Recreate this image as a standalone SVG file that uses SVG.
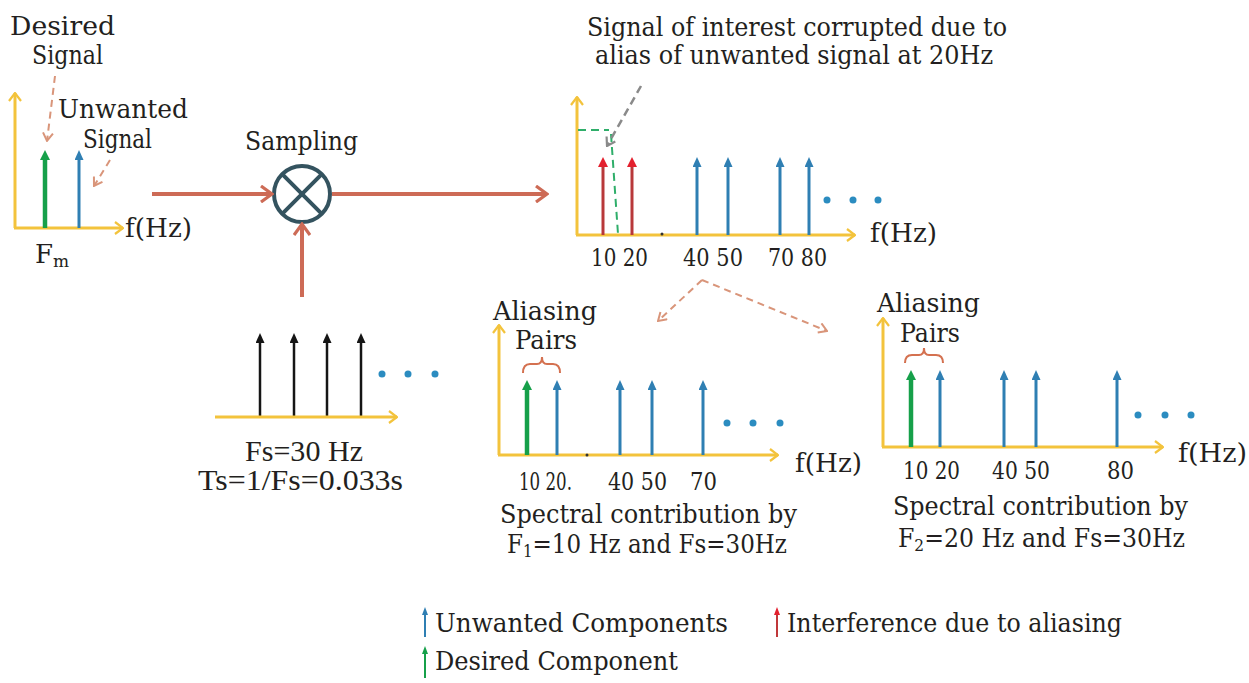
<svg xmlns="http://www.w3.org/2000/svg" width="1249" height="683" viewBox="0 0 1249 683">
<defs>
<style>
text{font-family:"DejaVu Serif","Liberation Serif",serif;font-size:26px;fill:#231f20}
.tm{font-family:"Liberation Serif","Times New Roman",serif;font-size:29px}
.num{font-size:25px}
.ax{stroke:#f3c33c;stroke-width:3;fill:none;marker-end:url(#axh)}
.sb{stroke:#2f7fb3;stroke-width:3;marker-end:url(#hb)}
.sg{stroke:#16a04a;stroke-width:4.5;marker-end:url(#hg)}
.sr{stroke:#b8383a;stroke-width:3;marker-end:url(#hr)}
.sk{stroke:#151515;stroke-width:2.5;marker-end:url(#hk)}
.dot{fill:#2b8cc0}
.conn{stroke:#cd6b56;stroke-width:4;fill:none;marker-end:url(#ch)}
.dash{stroke:#d9957a;stroke-width:2;stroke-dasharray:7 5;fill:none;marker-end:url(#dh)}
.brace{stroke:#d47150;stroke-width:2;fill:none}
</style>
<marker id="axh" markerUnits="userSpaceOnUse" viewBox="0 0 10 14" refX="9" refY="7" markerWidth="10" markerHeight="14" orient="auto"><path d="M1,1 L9,7 L1,13" fill="none" stroke="#f3c33c" stroke-width="2.2"/></marker>
<marker id="hb" markerUnits="userSpaceOnUse" viewBox="0 0 10 9" refX="3" refY="4.5" markerWidth="10" markerHeight="9" orient="auto"><path d="M0,0 L10,4.5 L0,9 Z" fill="#2f7fb3"/></marker>
<marker id="hg" markerUnits="userSpaceOnUse" viewBox="0 0 10 10" refX="3" refY="5" markerWidth="10" markerHeight="10" orient="auto"><path d="M0,0 L10,5 L0,10 Z" fill="#16a04a"/></marker>
<marker id="hr" markerUnits="userSpaceOnUse" viewBox="0 0 10 10" refX="3" refY="5" markerWidth="10" markerHeight="10" orient="auto"><path d="M0,0 L10,5 L0,10 Z" fill="#e3202e"/></marker>
<marker id="hk" markerUnits="userSpaceOnUse" viewBox="0 0 10 9" refX="3" refY="4.5" markerWidth="10" markerHeight="9" orient="auto"><path d="M0,0 L10,4.5 L0,9 Z" fill="#151515"/></marker>
<marker id="hbs" markerUnits="userSpaceOnUse" viewBox="0 0 8 6" refX="2" refY="3" markerWidth="8" markerHeight="6" orient="auto"><path d="M0,0 L8,3 L0,6 Z" fill="#2f7fb3"/></marker>
<marker id="hgs" markerUnits="userSpaceOnUse" viewBox="0 0 8 6" refX="2" refY="3" markerWidth="8" markerHeight="6" orient="auto"><path d="M0,0 L8,3 L0,6 Z" fill="#16a04a"/></marker>
<marker id="hrs" markerUnits="userSpaceOnUse" viewBox="0 0 8 6" refX="2" refY="3" markerWidth="8" markerHeight="6" orient="auto"><path d="M0,0 L8,3 L0,6 Z" fill="#e3202e"/></marker>
<marker id="ch" markerUnits="userSpaceOnUse" viewBox="0 0 14 18" refX="12" refY="9" markerWidth="14" markerHeight="18" orient="auto"><path d="M1,1 L12,9 L1,17" fill="none" stroke="#cd6b56" stroke-width="3.2"/></marker>
<marker id="dh" markerUnits="userSpaceOnUse" viewBox="0 0 10 12" refX="9" refY="6" markerWidth="10" markerHeight="12" orient="auto"><path d="M1,1 L9,6 L1,11" fill="none" stroke="#d9957a" stroke-width="2"/></marker>
<marker id="gh" markerUnits="userSpaceOnUse" viewBox="0 0 10 12" refX="9" refY="6" markerWidth="10" markerHeight="12" orient="auto"><path d="M1,1 L9,6 L1,11" fill="none" stroke="#8a8a8a" stroke-width="2.2"/></marker>
</defs>
<rect width="1249" height="683" fill="#ffffff"/>

<g id="input-spectrum">
<line class="ax" x1="15" y1="228" x2="15" y2="93"/>
<line class="ax" x1="14" y1="228" x2="123" y2="228"/>
<line class="sg" x1="45" y1="228" x2="45" y2="157"/>
<line class="sb" x1="79" y1="228" x2="79" y2="157"/>
<text x="10" y="35" textLength="105" lengthAdjust="spacingAndGlyphs">Desired</text>
<text x="32" y="64" textLength="71" lengthAdjust="spacingAndGlyphs">Signal</text>
<text x="58" y="118" textLength="130" lengthAdjust="spacingAndGlyphs">Unwanted</text>
<text x="83" y="148" textLength="69" lengthAdjust="spacingAndGlyphs">Signal</text>
<path class="dash" d="M55,76 L47,141"/>
<path class="dash" d="M110,160 L94,186"/>
<text x="125" y="237" textLength="67" lengthAdjust="spacingAndGlyphs">f(Hz)</text>
<text x="35" y="263">F<tspan font-size="17" dy="4">m</tspan></text>
</g>

<g id="sampling">
<text x="245" y="150" textLength="113" lengthAdjust="spacingAndGlyphs">Sampling</text>
<circle cx="302" cy="194" r="28" fill="#ffffff" stroke="#34535f" stroke-width="4"/>
<path d="M282.2,174.2 L321.8,213.8 M321.8,174.2 L282.2,213.8" stroke="#34535f" stroke-width="4"/>
</g>

<g id="sampling-train">
<line class="sk" x1="260" y1="417" x2="260" y2="340"/>
<line class="sk" x1="294" y1="417" x2="294" y2="340"/>
<line class="sk" x1="327" y1="417" x2="327" y2="340"/>
<line class="sk" x1="361" y1="417" x2="361" y2="340"/>
<line class="ax" x1="215" y1="417" x2="397" y2="417"/>
<circle class="dot" cx="382" cy="374" r="3.5"/>
<circle class="dot" cx="408" cy="374" r="3.5"/>
<circle class="dot" cx="435" cy="374" r="3.5"/>
<text class="tm" x="245" y="461" textLength="118" lengthAdjust="spacingAndGlyphs">Fs=30 Hz</text>
<text class="tm" x="198" y="490" textLength="205" lengthAdjust="spacingAndGlyphs">Ts=1/Fs=0.033s</text>
</g>

<g id="sampled-spectrum">
<text x="587" y="36" textLength="420" lengthAdjust="spacingAndGlyphs">Signal of interest corrupted due to</text>
<text x="595" y="64" textLength="398" lengthAdjust="spacingAndGlyphs">alias of unwanted signal at 20Hz</text>
<line class="ax" x1="577" y1="235" x2="577" y2="97"/>
<line class="ax" x1="576" y1="235" x2="855" y2="235"/>
<path d="M578,130 H609 M611,134 L618,234" stroke="#2fae6a" stroke-width="2" stroke-dasharray="8 5" fill="none"/>
<line class="sr" x1="603" y1="235" x2="603" y2="164"/>
<line class="sr" x1="632" y1="235" x2="632" y2="164"/>
<line class="sb" x1="697" y1="235" x2="697" y2="164"/>
<line class="sb" x1="728" y1="235" x2="728" y2="164"/>
<line class="sb" x1="780" y1="235" x2="780" y2="164"/>
<line class="sb" x1="809" y1="235" x2="809" y2="164"/>
<circle cx="662" cy="234" r="1.5" fill="#333"/>
<path d="M641,86 L607,146" stroke="#8a8a8a" stroke-width="2.5" stroke-dasharray="8 5" fill="none" marker-end="url(#gh)"/>
<circle class="dot" cx="827" cy="200" r="3.5"/>
<circle class="dot" cx="853" cy="200" r="3.5"/>
<circle class="dot" cx="878" cy="200" r="3.5"/>
<text x="870" y="242" textLength="67" lengthAdjust="spacingAndGlyphs">f(Hz)</text>
<text class="num" x="591" y="266" textLength="57" lengthAdjust="spacingAndGlyphs">10 20</text>
<text class="num" x="683" y="266" textLength="60" lengthAdjust="spacingAndGlyphs">40 50</text>
<text class="num" x="768" y="266" textLength="59" lengthAdjust="spacingAndGlyphs">70 80</text>
</g>

<g id="contribution-f1">
<text x="493" y="320" textLength="104" lengthAdjust="spacingAndGlyphs">Aliasing</text>
<text x="515" y="349" textLength="62" lengthAdjust="spacingAndGlyphs">Pairs</text>
<path class="brace" d="M523,373 Q523,364 530,364 L537,364 Q542,364 542,357 Q542,364 547,364 L553,364 Q560,364 560,373"/>
<line class="ax" x1="499" y1="455" x2="499" y2="325"/>
<line class="ax" x1="498" y1="455" x2="778" y2="455"/>
<line class="sg" x1="527" y1="455" x2="527" y2="387"/>
<line class="sb" x1="557" y1="455" x2="557" y2="387"/>
<line class="sb" x1="620" y1="455" x2="620" y2="387"/>
<line class="sb" x1="652" y1="455" x2="652" y2="387"/>
<line class="sb" x1="703" y1="455" x2="703" y2="387"/>
<circle cx="587" cy="455" r="1.5" fill="#333"/>
<circle class="dot" cx="727" cy="423" r="3.5"/>
<circle class="dot" cx="753" cy="423" r="3.5"/>
<circle class="dot" cx="780" cy="423" r="3.5"/>
<text x="795" y="472" textLength="67" lengthAdjust="spacingAndGlyphs">f(Hz)</text>
<text class="num" x="519" y="490" textLength="53" lengthAdjust="spacingAndGlyphs">10 20.</text>
<text class="num" x="608" y="490" textLength="59" lengthAdjust="spacingAndGlyphs">40 50</text>
<text class="num" x="690" y="490" textLength="27" lengthAdjust="spacingAndGlyphs">70</text>
<text x="500" y="523" textLength="297" lengthAdjust="spacingAndGlyphs">Spectral contribution by</text>
<text x="507" y="553" textLength="280" lengthAdjust="spacingAndGlyphs">F<tspan font-size="17" dy="4">1</tspan><tspan dy="-4">=10 Hz and Fs=30Hz</tspan></text>
</g>

<g id="contribution-f2">
<text x="877" y="312" textLength="103" lengthAdjust="spacingAndGlyphs">Aliasing</text>
<text x="900" y="342" textLength="60" lengthAdjust="spacingAndGlyphs">Pairs</text>
<path class="brace" d="M905,363 Q905,355 912,355 L919,355 Q924,355 924,348 Q924,355 929,355 L936,355 Q943,355 943,363"/>
<line class="ax" x1="883" y1="447" x2="883" y2="318"/>
<line class="ax" x1="882" y1="447" x2="1163" y2="447"/>
<line class="sg" x1="911" y1="447" x2="911" y2="377"/>
<line class="sb" x1="940" y1="447" x2="940" y2="377"/>
<line class="sb" x1="1004" y1="447" x2="1004" y2="377"/>
<line class="sb" x1="1036" y1="447" x2="1036" y2="377"/>
<line class="sb" x1="1117" y1="447" x2="1117" y2="377"/>
<circle class="dot" cx="1138" cy="415" r="3.5"/>
<circle class="dot" cx="1165" cy="415" r="3.5"/>
<circle class="dot" cx="1191" cy="415" r="3.5"/>
<text x="1178" y="462" textLength="69" lengthAdjust="spacingAndGlyphs">f(Hz)</text>
<text class="num" x="903" y="479" textLength="57" lengthAdjust="spacingAndGlyphs">10 20</text>
<text class="num" x="992" y="479" textLength="58" lengthAdjust="spacingAndGlyphs">40 50</text>
<text class="num" x="1107" y="479" textLength="27" lengthAdjust="spacingAndGlyphs">80</text>
<text x="893" y="515" textLength="295" lengthAdjust="spacingAndGlyphs">Spectral contribution by</text>
<text x="898" y="547" textLength="287" lengthAdjust="spacingAndGlyphs">F<tspan font-size="17" dy="4">2</tspan><tspan dy="-4">=20 Hz and Fs=30Hz</tspan></text>
</g>

<g id="legend">
<line x1="425" y1="637" x2="425" y2="613" stroke="#2f7fb3" stroke-width="2" marker-end="url(#hbs)"/>
<text x="435" y="632" textLength="293" lengthAdjust="spacingAndGlyphs">Unwanted Components</text>
<line x1="777" y1="637" x2="777" y2="613" stroke="#c0383a" stroke-width="2" marker-end="url(#hrs)"/>
<text x="787" y="632" textLength="335" lengthAdjust="spacingAndGlyphs">Interference due to aliasing</text>
<line x1="425" y1="678" x2="425" y2="652" stroke="#16a04a" stroke-width="2" marker-end="url(#hgs)"/>
<text x="435" y="670" textLength="243" lengthAdjust="spacingAndGlyphs">Desired Component</text>
</g>

<g id="connectors">
<line class="conn" x1="152" y1="194" x2="272" y2="194"/>
<line class="conn" x1="332" y1="194" x2="547" y2="194"/>
<line class="conn" x1="302" y1="297" x2="302" y2="224"/>
<path class="dash" d="M702,280 L658,321"/>
<path class="dash" d="M702,280 L827,331"/>
</g>
</svg>
